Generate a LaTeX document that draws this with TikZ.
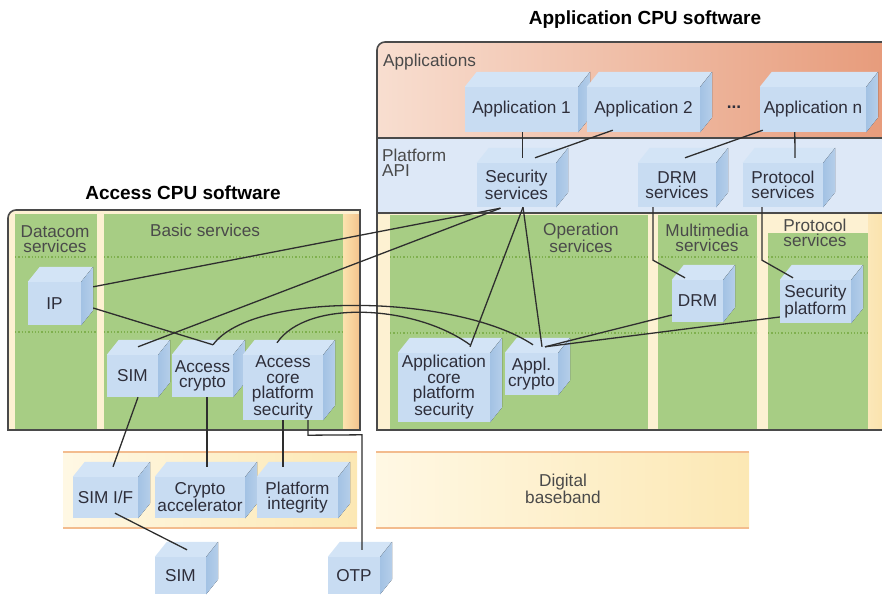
\documentclass[tikz,border=0pt]{standalone}
\usepackage{fontspec}
\setmainfont{Liberation Sans}
\usetikzlibrary{calc}
\definecolor{creamc}{HTML}{FDF1D2}
\definecolor{greenc}{HTML}{A7CD84}
\definecolor{dotc}{HTML}{7FB04E}
\definecolor{orngA}{HTML}{FBE3AE}
\definecolor{orngB}{HTML}{F4C48E}
\definecolor{appA}{HTML}{F8DED0}
\definecolor{appB}{HTML}{E79C7C}
\definecolor{apiblue}{HTML}{DDE8F7}
\definecolor{bxfront}{HTML}{C8DCF2}
\definecolor{bxtopc}{HTML}{D3E4F6}
\definecolor{bxsidec}{HTML}{A3C2E4}
\definecolor{bbA}{HTML}{FFF8E4}
\definecolor{bbB}{HTML}{FCE8B4}
\definecolor{bbline}{HTML}{F3BC8E}
\definecolor{linec}{HTML}{2E2E2E}
\definecolor{framec}{HTML}{4A4A4A}
\definecolor{txtc}{HTML}{2E2E3A}
\definecolor{lblc}{HTML}{4A4A4A}
\newcommand\blk[6]{%
  \node[bx, minimum width={(#4-#2)*1pt}, minimum height={(#5-#3)*1pt}] (#1) at ({(#2+#4)/2},{(#3+#5)/2}) {#6};
  \fill[bxtop] (#1.north west) -- ++(12pt,15pt) -- ([shift={(12pt,15pt)}]#1.north east) -- (#1.north east) -- cycle;
  \fill[bxside] (#1.north east) -- ++(12pt,15pt) -- ([shift={(12pt,15pt)}]#1.south east) -- (#1.south east) -- cycle;
}
\begin{document}
\begin{tikzpicture}[x=1pt,y=-1pt,
  every node/.style={font=\fontsize{17.2}{15.5}\selectfont},
  bx/.style={fill=bxfront, inner sep=0pt, align=center, text=txtc},
  bxtop/.style={fill=bxtopc},
  bxside/.style={left color=bxsidec, right color=bxsidec!80!white},
  conn/.style={draw=linec, line width=1.3pt},
  frame/.style={draw=framec, line width=1.6pt},
  dotline/.style={draw=dotc, line width=1.3pt, dotted},
  lbl/.style={text=lblc, align=center, inner sep=0pt},
  title/.style={font=\fontsize{19}{21}\selectfont\bfseries, text=black, inner sep=0pt}]
\useasboundingbox (0,0) rectangle (882,594);

% ---------- Access CPU box ----------
\fill[creamc] (8,430) -- (8,218) to[out=90,in=180] (16,210) -- (360,210) -- (360,430) -- cycle;
\fill[greenc] (15,214) rectangle (97,430);
\fill[greenc] (104,214) rectangle (343,430);
\fill[left color=orngA, right color=orngB] (343,214) rectangle (359,430);
\draw[dotline] (15,257) -- (97,257);
\draw[dotline] (104,257) -- (343,257);
\draw[dotline] (15,332) -- (97,332);
\draw[dotline] (104,332) -- (343,332);
\draw[frame] (8,430) -- (8,218) to[out=90,in=180] (16,210) -- (360,210) -- (360,430) -- cycle;

% ---------- Application CPU box ----------
\fill[left color=appA, right color=appB] (377,138) -- (377,50) to[out=90,in=180] (385,42) -- (882,42) -- (882,138) -- cycle;
\fill[apiblue] (377,138) rectangle (882,213);
\fill[creamc] (377,213) rectangle (882,430);
\fill[greenc] (390,215) rectangle (648,430);
\fill[greenc] (658,215) rectangle (757,430);
\fill[greenc] (768,233) rectangle (868,430);
\fill[left color=orngA!70!creamc, right color=orngA] (868,213) rectangle (882,430);
\foreach \yy in {257,333} {
  \draw[dotline] (390,\yy) -- (648,\yy);
  \draw[dotline] (658,\yy) -- (757,\yy);
  \draw[dotline] (768,\yy) -- (868,\yy);
}
\draw[frame] (882,430) -- (377,430) -- (377,50) to[out=90,in=180] (385,42) -- (882,42);
\draw[frame] (377,138) -- (882,138);
\draw[frame] (377,213) -- (882,213);

% ---------- baseband bands ----------
\fill[left color=bbA, right color=bbB] (63,452) rectangle (357,528);
\draw[draw=bbline, line width=1.5pt] (63,452) -- (357,452) (63,528) -- (357,528);
\fill[left color=bbA, right color=bbB] (376,452) rectangle (749,528);
\draw[draw=bbline, line width=1.5pt] (376,452) -- (749,452) (376,528) -- (749,528);
\node[lbl] (dbb) at (563,489) {Digital\\baseband};

% ---------- titles & labels ----------
\node[title] (tapp) at (645,20) {Application CPU software};
\node[title] (tacc) at (183,193) {Access CPU software};
\node[lbl, anchor=west] (lapps) at (383,62) {Applications};
\node[lbl, anchor=west, align=left] (lapi) at (382,163) {Platform\\API};
\node[lbl] (lop) at (581,238) {Operation\\services};
\node[lbl] (lmm) at (707,238) {Multimedia\\services};
\node[lbl] (lpr) at (815,233) {Protocol\\services};
\node[lbl] (ldc) at (55,239) {Datacom\\services};
\node[lbl] (lbs) at (205,230) {Basic services};
\node[text=txtc, inner sep=0pt, font=\fontsize{17.2}{15.5}\selectfont\bfseries] (dots) at (734,107) {...};

% ---------- blocks ----------
\blk{app1}{465}{87}{578}{132}{Application 1}
\blk{app2}{587}{87}{700}{132}{Application 2}
\blk{appn}{760}{87}{866}{132}{Application n}
\blk{secsrv}{477}{163}{556}{207}{Security\\services}
\blk{drmsrv}{638}{163}{716}{207}{DRM\\services}
\blk{protsrv}{743}{163}{823}{207}{Protocol\\services}
\blk{drm}{672}{280}{723}{322}{DRM}
\blk{secplat}{780}{280}{851}{323}{Security\\platform}
\blk{apcps}{398}{353}{490}{422}{Application\\core\\platform\\security}
\blk{applcr}{505}{353}{558}{395}{Appl.\\crypto}
\blk{ip}{28}{282}{81}{325}{IP}
\blk{sim}{107}{355}{158}{397}{SIM}
\blk{acr}{172}{355}{233}{397}{Access\\crypto}
\blk{acps}{243}{355}{323}{420}{Access\\core\\platform\\security}
\blk{simif}{73}{477}{138}{518}{SIM I/F}
\blk{cacc}{155}{477}{245}{518}{Crypto\\accelerator}
\blk{pint}{257}{477}{338}{518}{Platform\\integrity}
\blk{simb}{155}{557}{206}{594}{SIM}
\blk{otp}{328}{557}{380}{594}{OTP}

% ---------- connectors ----------
\draw[conn] ($(app1.south)+(1,0)$) -- ($(secsrv.north)+(6,-5)$);
\draw[conn] ($(app2.south west)+(26,-2)$) -- ($(secsrv.north)+(18.5,-5)$);
\draw[conn] ($(appn.south west)+(3,-2)$) -- ($(drmsrv.north)+(8,-5)$);
\draw[conn] ($(appn.south west)+(35,0)$) -- ($(protsrv.north)+(12,-5)$);
\draw[conn] ($(ip.north east)+(12,5)$) -- ($(secsrv.south)+(-16,1)$);
\draw[conn] ($(sim.north)+(5.5,-8)$) -- ($(secsrv.south)+(-16,1)$);
\draw[conn] ($(secsrv.south)+(6.5,0)$) -- ($(apcps.north)+(26,-6)$);
\draw[conn] ($(secsrv.south)+(6.5,0)$) -- ($(applcr.north)+(10.5,-6)$);
\draw[conn] ($(ip.east)+(12,4.5)$) -- ($(acr.north)+(10.5,-10)$);
\draw[conn] ($(acr.north)+(10.5,-10)$) .. controls +(40,-55) and +(-75,-50) .. ($(applcr.north)+(1.5,-8)$);
\draw[conn] ($(acps.north)+(-6,-12)$) .. controls +(30,-44) and +(-55,-40) .. ($(apcps.north)+(26,-8)$);
\draw[conn] ($(applcr.north)+(13.5,-6)$) -- ($(drm.west)+(0,14)$);
\draw[conn] ($(applcr.north)+(13.5,-6)$) -- ($(secplat.west)+(0,15.5)$);
\draw[conn] ($(drmsrv.south)+(-24,0)$) -- ($(drmsrv.south)+(-24,53)$) -- ($(drm.north)+(-12.5,-2)$);
\draw[conn] ($(protsrv.south)+(-21,0)$) -- ($(protsrv.south)+(-21,53)$) -- ($(secplat.north)+(-22.5,-2)$);
\draw[conn] ($(sim.south)+(5.5,0)$) -- ($(simif.north)+(7.5,-10)$);
\draw[conn] ($(acr.south)+(4.5,0)$) -- ($(cacc.north)+(7,-10)$);
\draw[conn] (acps.south) -- ($(pint.north)+(-14.5,-10)$);
\draw[conn] ($(acps.south)+(25,0)$) -- ($(acps.south)+(25,15)$) -- ($(otp.north)+(8,-122)$) -- ($(otp.north)+(8,-7)$);
\draw[conn] ($(simif.south)+(9.5,-5)$) -- ($(simb.north)+(6.5,-7)$);
\end{tikzpicture}
\end{document}
